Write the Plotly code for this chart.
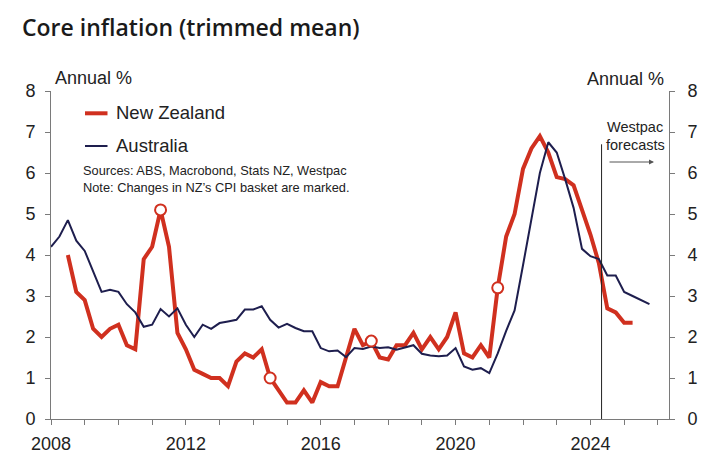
import numpy as np
import plotly.graph_objects as go

# ---------------- data ----------------
nz_start = 2008.5  # first quarter plotted (decimal year)
nz_values = [4.0, 3.1, 2.9, 2.2, 2.0, 2.2, 2.3, 1.8, 1.7, 3.9,
             4.2, 5.1, 4.2, 2.1, 1.7, 1.2, 1.1, 1.0, 1.0, 0.8,
             1.4, 1.6, 1.5, 1.7, 1.0, 0.7, 0.4, 0.4, 0.7, 0.4,
             0.9, 0.8, 0.8, 1.5, 2.2, 1.8, 1.9, 1.5, 1.45, 1.8,
             1.8, 2.1, 1.7, 2.0, 1.7, 2.0, 2.6, 1.6, 1.5, 1.8,
             1.5, 3.2, 4.45, 5.0, 6.1, 6.6, 6.9, 6.5, 5.9, 5.85,
             5.7, 5.1, 4.5, 3.8, 2.7, 2.6, 2.35, 2.35]

au_start = 2008.0
au_values = [4.2, 4.45, 4.85, 4.35, 4.1, 3.6, 3.1, 3.15, 3.1, 2.8,
             2.6, 2.25, 2.3, 2.68, 2.5, 2.7, 2.3, 2.0, 2.3, 2.2,
             2.34, 2.38, 2.42, 2.67, 2.67, 2.75, 2.42, 2.23, 2.32, 2.22,
             2.14, 2.14, 1.73, 1.65, 1.67, 1.51, 1.73, 1.71, 1.77, 1.73,
             1.75, 1.69, 1.75, 1.8, 1.59, 1.55, 1.53, 1.55, 1.73, 1.28,
             1.2, 1.24, 1.12, 1.6, 2.15, 2.65, 3.75, 4.9, 6.0, 6.75,
             6.5, 5.85, 5.15, 4.15, 3.97, 3.9, 3.5, 3.5, 3.1, 3.0,
             2.9, 2.8]

basket_changes = [2011.25, 2014.5, 2017.5, 2021.25]
forecast_start = 2024.33
x_tick_years = [2008, 2012, 2016, 2020, 2024]
x_range = [2008, 2026.33]
y_ticks = [0, 1, 2, 3, 4, 5, 6, 7, 8]
forecast_line_top = 6.7

NZ_RED = "#d0301f"
AU_NAVY = "#1e1e4e"
AXIS_GREY = "#7a7a7a"
TXT = "#222222"
FONT = "Liberation Sans, Arial, sans-serif"

nz_x = nz_start + 0.25 * np.arange(len(nz_values))
au_x = au_start + 0.25 * np.arange(len(au_values))
nz_lookup = dict(zip(np.round(nz_x, 2), nz_values))
mk_y = [nz_lookup[round(d, 2)] for d in basket_changes]

# ---------------- layout geometry ----------------
W, H = 720, 460
L, R, T, B = 51, 51, 91, 41
PW, PH = W - L - R, H - T - B


def px(xp):
    return (xp - L) / PW


def py(yp):
    return (H - B - yp) / PH


fig = go.Figure()
fig.add_trace(go.Scatter(x=nz_x, y=nz_values, mode="lines", name="New Zealand",
                         line=dict(color=NZ_RED, width=4), showlegend=False))
fig.add_trace(go.Scatter(x=au_x, y=au_values, mode="lines", name="Australia",
                         line=dict(color=AU_NAVY, width=2), showlegend=False))
fig.add_trace(go.Scatter(x=basket_changes, y=mk_y, mode="markers", showlegend=False,
                         marker=dict(symbol="circle", size=11, color="white",
                                     line=dict(color=NZ_RED, width=2))))
fig.add_trace(go.Scatter(x=[], y=[], yaxis="y2", showlegend=False))

axis_common = dict(showgrid=False, zeroline=False, showline=True, linecolor=AXIS_GREY,
                   linewidth=1, ticks="outside", ticklen=5, tickcolor=AXIS_GREY,
                   automargin=False,
                   tickfont=dict(family=FONT, size=18, color=TXT))

fig.update_layout(
    width=W, height=H, margin=dict(l=L, r=R, t=T, b=B, autoexpand=False),
    paper_bgcolor="white", plot_bgcolor="white",
    xaxis=dict(range=x_range, tickvals=x_tick_years, ticklabelstandoff=3,
               minor=dict(tick0=2008, dtick=1, ticks="outside", ticklen=5, tickcolor=AXIS_GREY),
               **axis_common),
    yaxis=dict(range=[0, 8], tickvals=y_ticks, ticklabelstandoff=6, **axis_common),
    yaxis2=dict(range=[0, 8], tickvals=y_ticks, overlaying="y", side="right", anchor="x",
                ticklabelstandoff=9, **axis_common),
)

# forecast divider
fig.add_shape(type="line", xref="x", yref="y", x0=forecast_start, x1=forecast_start,
              y0=0, y1=forecast_line_top, line=dict(color="#222", width=1))

# legend (hand-made)
for yy, col, wd in [(113.3, NZ_RED, 4), (146, AU_NAVY, 2)]:
    fig.add_shape(type="line", xref="paper", yref="paper", x0=px(85), x1=px(107.5),
                  y0=py(yy), y1=py(yy), line=dict(color=col, width=wd))

ann = []


def text(s, x, y, size, xanchor="left", color=TXT, family=FONT, weight=None):
    f = dict(family=family, size=size, color=color)
    if weight:
        f["weight"] = weight
    ann.append(dict(text=s, x=px(x), y=py(y), xref="paper", yref="paper",
                    xanchor=xanchor, yanchor="middle", showarrow=False, font=f,
                    align="left"))


text("Core inflation (trimmed mean)", 20, 27, 23, family="Open Sans, sans-serif", weight=600,
     color="#1a1a1a")
text("Annual %", 53, 78, 18)
text("Annual %", 666, 79, 18, xanchor="right")
text("New Zealand", 114, 112.5, 18.5)
text("Australia", 114, 145.5, 18.5)
text("Sources: ABS, Macrobond, Stats NZ, Westpac<br>Note: Changes in NZ\u2019s CPI basket are marked.",
     81, 178.5, 12.8)
text("Westpac", 635, 127, 14.5, xanchor="center")
text("forecasts", 635, 144.5, 14.5, xanchor="center")

ann.append(dict(x=px(654), y=py(162), xref="paper", yref="paper", ax=-46, ay=0,
                showarrow=True, arrowhead=2, arrowsize=1, arrowwidth=1,
                arrowcolor="#555", text=""))

fig.update_layout(annotations=ann)
fig.write_html("out.html", config={"displayModeBar": False},
               post_script="document.body.style.margin='0';")
